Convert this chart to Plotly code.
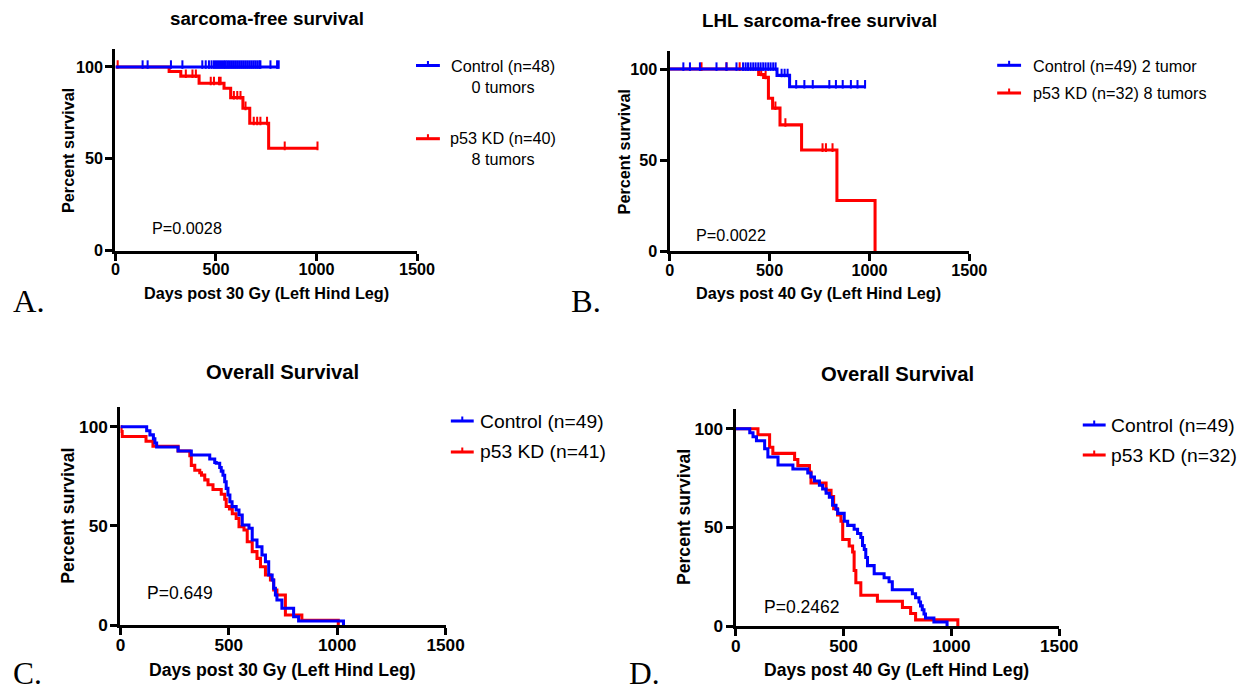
import numpy as np
import plotly.graph_objects as go

# design space = reference pixels (1242 x 692); the page is rendered slightly larger and
# shrunk to the window, so the figure is built at 1260 x 702 and every pixel size scaled by K
W, H = 1242, 692
FIG_W, FIG_H = 1260, 702
K = FIG_W / W
BLUE, RED = "#0000FF", "#FF0000"
SANS = "Liberation Sans"
SERIF = "Liberation Serif"

# ---------------- Panel A : sarcoma-free survival (30 Gy) ----------------
A_ctrl_t = [0, 812]
A_ctrl_s = [100, 100]
A_ctrl_cens = [135, 160, 276, 333, 432, 449, 465, 478, 490, 500, 510, 520, 530, 540, 548,
               556, 565, 575, 585, 595, 605, 615, 625, 635, 645, 655, 665, 675, 685, 695,
               705, 715, 721, 771, 804, 812]
A_kd_t = [0, 267, 325, 416, 540, 573, 634, 668, 762, 1005]
A_kd_s = [100, 97.5, 95.0, 91.1, 88.4, 83.3, 77.5, 69.3, 55.7, 55.7]
A_kd_cens = [11, 350, 383, 400, 474, 490, 515, 523, 589, 606, 622, 647, 688, 705, 721, 754, 842, 1005]

# ---------------- Panel B : LHL sarcoma-free survival (40 Gy) ----------------
B_ctrl_t = [0, 537, 600, 978]
B_ctrl_s = [100, 96.5, 90.3, 90.3]
B_ctrl_cens = [68, 101, 151, 234, 284, 334, 367, 380, 392, 405, 418, 430, 443, 455, 468, 480,
               493, 505, 518, 530, 560, 575, 590, 633, 674, 716, 799, 832, 866, 907, 940, 978]
B_kd_t = [0, 445, 470, 494, 515, 552, 660, 837, 1028]
B_kd_s = [100, 97.0, 95.4, 83.9, 78.5, 69.3, 55.5, 27.7, 0]
B_kd_cens = [159, 284, 350, 458, 480, 529, 579, 765, 782, 815]

# ---------------- Panel C : Overall survival (30 Gy) ----------------
C_ctrl_t = [0, 121, 136, 152, 159, 167, 266, 327, 412, 435, 442, 458, 465, 473, 481, 488, 496,
            505, 515, 534, 547, 562, 593, 608, 630, 653, 669, 684, 700, 707, 715, 722, 745,
            799, 822, 1029]
C_ctrl_s = [100, 98.0, 95.9, 93.9, 91.8, 89.8, 87.8, 85.7, 83.7, 82.0, 81.6, 79.4, 77.6, 75.5,
            72.3, 68.9, 65.6, 62.2, 59.7, 58.0, 55.5, 50.4, 48.8, 42.9, 39.5, 35.3, 31.9, 25.2,
            22.7, 18.5, 15.1, 12.6, 8.4, 4.2, 2.0, 0]
C_kd_t = [0, 3, 8, 118, 150, 266, 320, 327, 343, 366, 374, 389, 404, 427, 465, 481, 488, 503,
          516, 534, 547, 570, 585, 608, 630, 646, 669, 692, 707, 722, 761, 837, 1005]
C_kd_s = [100, 97.6, 95.1, 92.7, 90.2, 87.8, 85.4, 80.5, 78.0, 76.8, 75.6, 73.2, 70.7, 68.3,
          65.9, 63.4, 59.8, 58.5, 56.1, 53.7, 49.6, 47.9, 42.0, 37.0, 33.6, 29.4, 25.2, 22.7,
          17.6, 15.1, 5.0, 2.4, 0]

# ---------------- Panel D : Overall survival (40 Gy) ----------------
D_ctrl_t = [0, 65, 80, 96, 134, 149, 196, 265, 334, 349, 365, 388, 403, 419, 434, 449, 465,
            473, 503, 519, 542, 549, 565, 580, 588, 596, 603, 611, 634, 642, 673, 688, 711,
            726, 796, 819, 834, 850, 857, 865, 873, 880, 919, 980]
D_ctrl_s = [100, 98.0, 95.9, 93.9, 89.8, 85.7, 81.6, 79.6, 77.6, 75.5, 73.5, 71.4, 69.4, 67.3,
            65.3, 61.2, 59.2, 57.1, 53.1, 51.0, 51.0, 49.0, 46.9, 44.9, 40.8, 38.8, 34.7, 30.6,
            30.6, 26.5, 26.5, 24.5, 22.4, 18.4, 18.4, 16.3, 14.3, 12.2, 10.2, 8.2, 6.1, 4.1,
            2.0, 0]
D_kd_t = [0, 103, 157, 172, 273, 288, 342, 349, 419, 442, 454, 472, 488, 496, 526, 542, 549,
          557, 580, 657, 773, 811, 834, 1030]
D_kd_s = [100, 96.9, 90.6, 87.5, 84.4, 81.3, 78.1, 72.5, 68.8, 65.6, 59.4, 56.3, 53.1, 43.8,
          40.6, 37.5, 28.1, 21.9, 15.6, 12.5, 9.4, 6.3, 3.1, 0]

X_TICKS = [0, 500, 1000, 1500]
Y_TICKS = [0, 50, 100]
CENSOR_LIFT = 1.3  # censor ticks sit on top of the curve


def step_at(t_arr, s_arr, times):
    t_arr = np.asarray(t_arr, float)
    s_arr = np.asarray(s_arr, float)
    idx = np.searchsorted(t_arr, np.asarray(times, float), side="right") - 1
    return s_arr[np.clip(idx, 0, len(s_arr) - 1)]


def fx(px):
    return px / W


def fy(py):
    return 1 - py / H


def k(v):
    return v * K


panels = {
    "A": dict(x0=111, x1=414, y0=250.5, ytop=48.6, fs_tick=16),
    "B": dict(x0=668, x1=969, y0=251, ytop=50.8, fs_tick=16),
    "C": dict(x0=116, x1=442.7, y0=625, ytop=406.9, fs_tick=17),
    "D": dict(x0=734.3, x1=1059.3, y0=626, ytop=409, fs_tick=17),
}

data = {
    "A": (A_ctrl_t, A_ctrl_s, A_ctrl_cens, A_kd_t, A_kd_s, A_kd_cens),
    "B": (B_ctrl_t, B_ctrl_s, B_ctrl_cens, B_kd_t, B_kd_s, B_kd_cens),
    "C": (C_ctrl_t, C_ctrl_s, [], C_kd_t, C_kd_s, []),
    "D": (D_ctrl_t, D_ctrl_s, [], D_kd_t, D_kd_s, []),
}

fig = go.Figure()
layout = dict(
    width=FIG_W, height=FIG_H, margin=dict(l=0, r=0, t=0, b=0, pad=0), autosize=False,
    paper_bgcolor="white", plot_bgcolor="white", showlegend=False,
)

LW = k(3)
for i, key in enumerate(["A", "B", "C", "D"]):
    p = panels[key]
    n = "" if i == 0 else str(i + 1)
    xa, ya = "x" + n, "y" + n
    ct, cs, cc, kt, ks, kc = data[key]
    fig.add_trace(go.Scatter(x=kt, y=ks, mode="lines", line=dict(color=RED, width=LW, shape="hv"),
                             xaxis=xa, yaxis=ya, hoverinfo="skip"))
    if kc:
        fig.add_trace(go.Scatter(x=kc, y=step_at(kt, ks, kc) + CENSOR_LIFT, mode="markers",
                                 marker=dict(symbol="line-ns", size=k(6), line=dict(color=RED, width=k(2))),
                                 xaxis=xa, yaxis=ya, hoverinfo="skip"))
    fig.add_trace(go.Scatter(x=ct, y=cs, mode="lines", line=dict(color=BLUE, width=LW, shape="hv"),
                             xaxis=xa, yaxis=ya, hoverinfo="skip"))
    if cc:
        fig.add_trace(go.Scatter(x=cc, y=step_at(ct, cs, cc) + CENSOR_LIFT, mode="markers",
                                 marker=dict(symbol="line-ns", size=k(6), line=dict(color=BLUE, width=k(2))),
                                 xaxis=xa, yaxis=ya, hoverinfo="skip", cliponaxis=False))
    tickfont = dict(family=SANS, size=k(p["fs_tick"]), color="black", weight="bold")
    common = dict(showgrid=False, zeroline=False, showline=True, linewidth=LW, linecolor="black",
                  ticks="outside", ticklen=k(7), tickwidth=LW, tickcolor="black", tickfont=tickfont,
                  fixedrange=True)
    layout["xaxis" + n] = dict(domain=[fx(p["x0"]), fx(p["x1"])], anchor=ya, range=[0, 1500],
                               tickvals=X_TICKS, ticklabelstandoff=-5, **common)
    layout["yaxis" + n] = dict(domain=[fy(p["y0"]), fy(p["ytop"])], anchor=xa, range=[0, 110],
                               tickvals=Y_TICKS, ticklabelstandoff=-1, **common)

ann = []


def text(x, y, s, size, bold=False, xanchor="center", yanchor="middle", angle=0, family=SANS,
         align="center", yref_bottom=False):
    ann.append(dict(x=fx(x), y=0 if yref_bottom else fy(y), xref="paper", yref="paper",
                    text=("<b>%s</b>" % s) if bold else s, borderpad=0,
                    showarrow=False, xanchor=xanchor, yanchor=yanchor, textangle=angle, align=align,
                    font=dict(family=family, size=k(size), color="black")))


text(263.5, 19, "sarcoma-free survival", 18.5, bold=True)
text(818, 20, "LHL sarcoma-free survival", 18.5, bold=True)
text(279.3, 371.5, "Overall Survival", 20, bold=True)
text(896.8, 374, "Overall Survival", 20, bold=True)
text(262.5, 292.7, "Days post 30 Gy (Left Hind Leg)", 16, bold=True)
text(817.8, 292.7, "Days post 40 Gy (Left Hind Leg)", 16, bold=True)
text(278.5, 670, "Days post 30 Gy (Left Hind Leg)", 17.4, bold=True)
text(896, 670, "Days post 40 Gy (Left Hind Leg)", 17.3, bold=True)
text(63.3, 150, "Percent survival", 16, bold=True, angle=-90)
text(621.7, 151.7, "Percent survival", 16, bold=True, angle=-90)
text(63.3, 515.8, "Percent survival", 17.4, bold=True, angle=-90)
text(681.7, 516.7, "Percent survival", 17.4, bold=True, angle=-90)
text(147, 228, "P=0.0028", 16, xanchor="left")
text(693.3, 235, "P=0.0022", 16, xanchor="left")
text(141.7, 593.3, "P=0.649", 17.3, xanchor="left")
text(761.7, 607.3, "P=0.2462", 17.3, xanchor="left")
text(7, 301, "A.", 32, xanchor="left", family=SERIF)
text(568, 301, "B.", 32, xanchor="left", family=SERIF)
text(7, 0, "C.", 31, xanchor="left", yanchor="bottom", family=SERIF, yref_bottom=True)
text(626, 0, "D.", 31, xanchor="left", yanchor="bottom", family=SERIF, yref_bottom=True)

text(500.7, 76.4, "Control (n=48)<br>0 tumors", 16)
text(500.5, 148.5, "p53 KD (n=40)<br>8 tumors", 16)
text(1031.7, 65.5, "Control (n=49) 2 tumor", 16, xanchor="left")
text(1032, 92.7, "p53 KD (n=32) 8 tumors", 16, xanchor="left")
text(476, 421, "Control (n=49)", 19, xanchor="left")
text(476, 452, "p53 KD (n=41)", 19, xanchor="left")
text(1110, 425, "Control (n=49)", 19, xanchor="left")
text(1110, 455, "p53 KD (n=32)", 19, xanchor="left")

shapes = []
legend_syms = [
    (413, 437, 65.5, BLUE), (413, 437, 138.7, RED),
    (997, 1021, 65.3, BLUE), (997, 1021, 93, RED),
    (448, 471, 421, BLUE), (448, 471, 452, RED),
    (1083, 1106, 425, BLUE), (1083, 1106, 455, RED),
]
for x0, x1, y, c in legend_syms:
    shapes.append(dict(type="line", xref="paper", yref="paper", x0=fx(x0), x1=fx(x1), y0=fy(y), y1=fy(y),
                       line=dict(color=c, width=LW)))
    xm = (x0 + x1) / 2
    shapes.append(dict(type="line", xref="paper", yref="paper", x0=fx(xm), x1=fx(xm), y0=fy(y), y1=fy(y - 4.5),
                       line=dict(color=c, width=k(2))))

layout["annotations"] = ann
layout["shapes"] = shapes
fig.update_layout(**layout)
fig.write_html("out.html")
